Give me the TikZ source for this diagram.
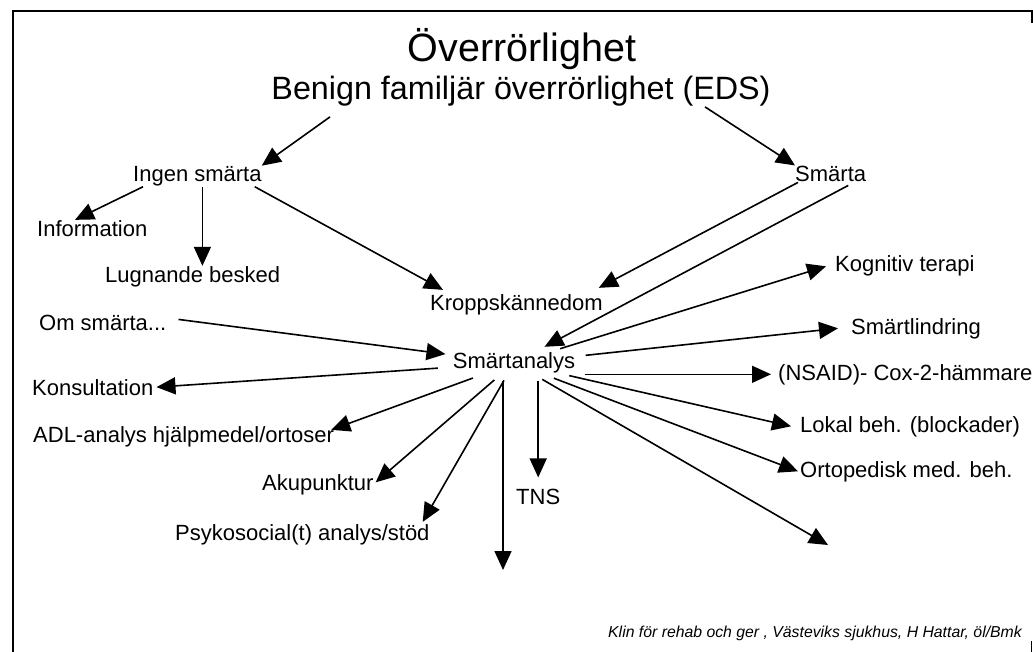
\documentclass[tikz,border=0pt]{standalone}
\usepackage{fontspec}
\setmainfont{Liberation Sans}
\usetikzlibrary{arrows.meta,shapes.geometric}
\tikzset{
	etikett/.style={font=\fontsize{22}{26}\selectfont, inner sep=0pt, anchor=base west},
	pil/.style={-{Triangle[length=19pt,width=17pt]}, line width=1.6pt}
}
\begin{document}
\begin{tikzpicture}[x=1pt,y=-1pt]
		\useasboundingbox (0,0) rectangle (1033,652);
		\draw[line width=2pt] (13,652) -- (13,11) -- (1032,11) -- (1032,23);
		\draw[line width=1pt] (1031,641) -- (1031,652);
		\node[inner sep=0pt, anchor=base, font=\fontsize{39.5}{46}\selectfont] (rubrik) at (522,62) {Överrörlighet};
		\node[inner sep=0pt, anchor=base, font=\fontsize{32.3}{38}\selectfont] (under) at (521,100) {Benign familjär överrörlighet (EDS)};
		\node[etikett] (ingen) at (133,182) {Ingen smärta};
		\node[etikett] (smarta) at (795,182) {Smärta};
		\node[etikett] (info) at (37,237) {Information};
		\node[etikett] (lugn) at (105,283) {Lugnande besked};
		\node[etikett] (kropp) at (430,310) {Kroppskännedom};
		\node[etikett] (kogn) at (835,272) {Kognitiv terapi};
		\node[etikett] (om) at (39,330) {Om smärta...};
		\node[etikett] (slind) at (851,334) {Smärtlindring};
		\node[etikett, ellipse, anchor=center, inner xsep=-5pt, inner ysep=2pt] (sa) at (514,363) {Smärtanalys};
		\node[etikett] (nsaid) at (778,380) {(NSAID)- Cox-2-hämmare};
		\node[etikett] (konsult) at (32,395) {Konsultation};
		\node[etikett] (lokal) at (800,432) {Lokal beh. (blockader)};
		\node[etikett] (adl) at (33,442) {ADL-analys hjälpmedel/ortoser};
		\node[etikett] (orto) at (800,477) {Ortopedisk med. beh.};
		\node[etikett] (aku) at (262,490) {Akupunktur};
		\node[etikett] (tns) at (516,504) {TNS};
		\node[etikett] (psy) at (175,540) {Psykosocial(t) analys/stöd};
		\node[etikett, font=\fontsize{15.8}{18}\selectfont\itshape] (kalla) at (608,637) {Klin för rehab och ger , Västeviks sjukhus, H Hattar, öl/Bmk};
		\coordinate (ned) at (503,570);
		\coordinate (snett) at (828,545);
		\draw[pil] ([xshift=-191pt,yshift=-10pt]under.south) -- ([yshift=1pt]ingen.north east);
		\draw[pil] ([xshift=184pt]under.south) -- ([yshift=1pt]smarta.north west);
		\draw[pil] ([xshift=10pt]ingen.south west) -- ([xshift=38pt,yshift=1pt]info.north west);
		\draw[pil] ([xshift=5pt]ingen.south) -- ([xshift=5pt,yshift=1pt]ingen.south |- lugn.north);
		\draw[pil] ([xshift=-7pt]ingen.south east) -- ([xshift=13pt,yshift=4pt]kropp.north west);
		\draw[pil] ([xshift=3pt]smarta.south west) -- ([xshift=-4pt,yshift=6pt]kropp.north east);
		\draw[pil] ([xshift=-18pt,yshift=-3pt]smarta.south east) -- (sa);
		\draw[pil] ([xshift=12pt,yshift=3pt]om.east) -- (sa);
		\draw[pil] (sa) -- ([xshift=3pt]konsult.east);
		\draw[pil] (sa) -- ([xshift=-3pt,yshift=-4pt]adl.north east);
		\draw[pil] (sa) -- ([xshift=2pt,yshift=2pt]aku.east);
		\draw[pil] (sa) -- ([xshift=-7pt,yshift=2pt]psy.north east);
		\draw[pil] (sa.south -| ned) -- (ned);
		\draw[pil] (sa.south -| tns.north) -- ([yshift=11pt]tns.north);
		\draw[pil] (sa) -- (snett);
		\draw[pil] (sa) -- ([xshift=-2pt]orto.west);
		\draw[pil] (sa) -- ([xshift=-9pt]lokal.west);
		\draw[pil] ([xshift=-9pt]sa.east |- nsaid.west) -- ([xshift=-7pt]nsaid.west);
		\draw[pil] (sa) -- ([xshift=-13pt]slind.west);
		\draw[pil] (sa) -- ([xshift=-9pt]kogn.west);
	\end{tikzpicture}
\end{document}
